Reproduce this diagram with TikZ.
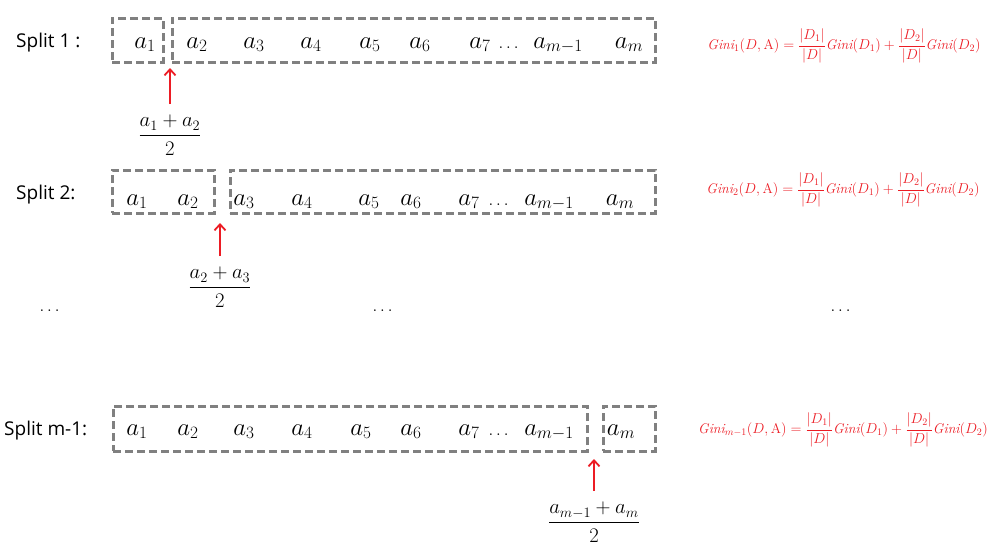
\documentclass[tikz,border=0pt]{standalone}
\usepackage{fontspec}
\setsansfont{Open Sans}
\usepackage{amsmath}
\definecolor{boxgray}{RGB}{128,128,128}
\definecolor{cutred}{RGB}{236,28,36}
\usetikzlibrary{arrows.meta, positioning}

\begin{document}
\begin{tikzpicture}[x=1pt, y=-1pt,
    grp/.style={draw=boxgray, line width=3pt, dash pattern=on 8pt off 4pt,
      inner sep=0pt, minimum height=44pt},
    elem/.style={font=\fontsize{27}{31}\selectfont, inner sep=0pt, anchor=base},
    gap/.style={font=\fontsize{17}{20}\selectfont, inner sep=0pt, anchor=base},
    lbl/.style={font=\sffamily\fontsize{19}{23}\selectfont, inner sep=0pt, anchor=base west},
    cut/.style={font=\fontsize{21}{25}\selectfont, inner sep=0pt, anchor=north},
    arrow/.style={-{Straight Barb[length=6pt, width=11pt]}, cutred, line width=1.8pt,
      shorten <=11pt},
    gini/.style={text=cutred, font=\fontsize{14}{16}\selectfont, inner sep=0pt},
    more/.style={font=\fontsize{18}{22}\selectfont, inner sep=0pt},
  ]
    \useasboundingbox (0,0) rectangle (995,547);

    % Split 1
    \node[lbl] (s1) at (16,47) {Split 1 :};
    \node[grp, minimum width=51pt] (b1l) at (137.5,40) {};
    \node[grp, minimum width=483pt] (b1r) at (413.5,40) {};
    \foreach \x/\t [count=\i] in {145/a_1, 197/a_2, 254/a_3, 311/a_4, 370/a_5, 420/a_6,
        480/a_7, 558/a_{m-1}, 629/a_m}
      \node[elem] (e1-\i) at (\x,48) {$\t$};
    \node[gap] (d1) at (510,48) {$\dots$};
    \coordinate (t1) at (170,68);
    \node[cut] (f1) at (170,115) {$\dfrac{a_1+a_2}{2}$};
    \draw[arrow] (f1.north) -- (t1);
    \node[gini] (g1) at (844,46)
      {$\mathit{Gini}_1(D,\mathrm{A})=\dfrac{|D_1|}{|D|}\mathit{Gini}(D_1)+\dfrac{|D_2|}{|D|}\mathit{Gini}(D_2)$};

    % Split 2
    \node[lbl] (s2) at (16,199) {Split 2:};
    \node[grp, minimum width=102pt, minimum height=43pt] (b2l) at (163,191.5) {};
    \node[grp, minimum width=425pt, minimum height=43pt] (b2r) at (442.5,191.5) {};
    \foreach \x/\t [count=\i] in {137/a_1, 188/a_2, 244/a_3, 302/a_4, 369/a_5, 411/a_6,
        469/a_7, 549/a_{m-1}, 620/a_m}
      \node[elem] (e2-\i) at (\x,205) {$\t$};
    \node[gap] (d2) at (500,205) {$\dots$};
    \coordinate (t2) at (220,223);
    \node[cut] (f2) at (220,267) {$\dfrac{a_2+a_3}{2}$};
    \draw[arrow] (f2.north) -- (t2);
    \node[gini] (g2) at (843,190)
      {$\mathit{Gini}_2(D,\mathrm{A})=\dfrac{|D_1|}{|D|}\mathit{Gini}(D_1)+\dfrac{|D_2|}{|D|}\mathit{Gini}(D_2)$};

    % ...
    \node[more] (m1) at (51,311) {$\dots$};
    \node[more] (m2) at (384,311) {$\dots$};
    \node[more] (m3) at (842,311) {$\dots$};

    % Split m-1
    \node[lbl] (s3) at (4,435) {Split m-1:};
    \node[grp, minimum width=474pt, minimum height=45pt] (b3l) at (350,428.5) {};
    \node[grp, minimum width=52pt, minimum height=45pt] (b3r) at (629,428.5) {};
    \foreach \x/\t [count=\i] in {137/a_1, 188/a_2, 244/a_3, 302/a_4, 361/a_5, 411/a_6,
        469/a_7, 549/a_{m-1}, 621/a_m}
      \node[elem] (e3-\i) at (\x,435) {$\t$};
    \node[gap] (d3) at (500,435) {$\dots$};
    \coordinate (t3) at (594,459);
    \node[cut] (f3) at (594,502) {$\dfrac{a_{m-1}+a_m}{2}$};
    \draw[arrow] (f3.north) -- (t3);
    \node[gini] (g3) at (843,430)
      {$\mathit{Gini}_{m-1}(D,\mathrm{A})=\dfrac{|D_1|}{|D|}\mathit{Gini}(D_1)+\dfrac{|D_2|}{|D|}\mathit{Gini}(D_2)$};
  \end{tikzpicture}
\end{document}
